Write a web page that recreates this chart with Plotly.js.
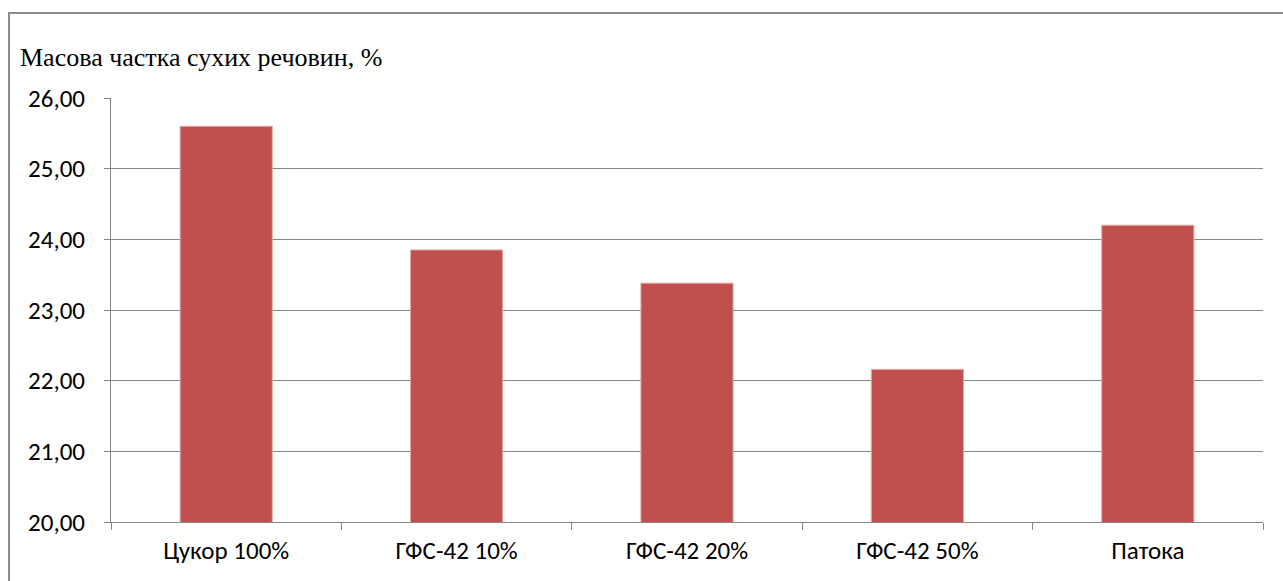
<!DOCTYPE html>
<html>
<head>
<meta charset="utf-8">
<script src="https://cdn.plot.ly/plotly-3.0.1.min.js"></script>
<style>
  html, body { margin: 0; padding: 0; background: #fff; }
  #wrap { position: relative; width: 1283px; height: 581px; overflow: hidden; }
  #chart { width: 1283px; height: 581px; }
  #frame { position: absolute; left: 8px; top: 12px; width: 1400px; height: 700px;
           border-left: 2px solid #8c8c8c; border-top: 2px solid #8c8c8c; pointer-events: none; }
</style>
</head>
<body>
<div id="wrap">
  <div id="chart"></div>
  <div id="frame"></div>
</div>
<script>
const categories = ["Цукор 100%", "ГФС-42 10%", "ГФС-42 20%", "ГФС-42 50%", "Патока"];
const values = [25.60, 23.85, 23.38, 22.16, 24.20];
const yTickVals = [20, 21, 22, 23, 24, 25, 26];
const yTickText = ["20,00", "21,00", "22,00", "23,00", "24,00", "25,00", "26,00"];
const chartTitle = "Масова частка сухих речовин, %";

const trace = {
  type: "bar",
  x: categories,
  y: values,
  width: 0.4,
  marker: { color: "#C0504D", line: { color: "#E3A9A7", width: 1 } },
  hoverinfo: "x+y"
};

const tickFont = { family: "Carlito, Lato, 'Open Sans', sans-serif", size: 25, color: "#000" };

const layout = {
  width: 1283,
  height: 581,
  margin: { l: 111, r: 20, t: 98, b: 59 },
  paper_bgcolor: "#ffffff",
  plot_bgcolor: "#ffffff",
  showlegend: false,
  title: {
    text: chartTitle,
    font: { family: "'Liberation Serif', 'Times New Roman', serif", size: 26, color: "#000" },
    x: 20 / 1283, xref: "container", xanchor: "left",
    y: 1 - 57 / 581, yref: "container", yanchor: "middle"
  },
  xaxis: {
    type: "category",
    tickson: "boundaries",
    ticks: "outside",
    ticklen: 7,
    tickcolor: "#868686",
    tickwidth: 1,
    showline: true,
    linecolor: "#868686",
    linewidth: 1,
    showgrid: false,
    tickfont: tickFont,
    ticklabelstandoff: 6,
    fixedrange: true
  },
  yaxis: {
    range: [20, 26],
    tickmode: "array",
    tickvals: yTickVals,
    ticktext: yTickText,
    ticks: "outside",
    ticklen: 6,
    tickcolor: "#868686",
    showline: true,
    linecolor: "#868686",
    linewidth: 1,
    showgrid: true,
    gridcolor: "#868686",
    gridwidth: 1,
    zeroline: false,
    tickfont: tickFont,
    ticklabelstandoff: 14,
    fixedrange: true
  }
};

Plotly.newPlot("chart", [trace], layout, { displayModeBar: false, staticPlot: true });
</script>
</body>
</html>
